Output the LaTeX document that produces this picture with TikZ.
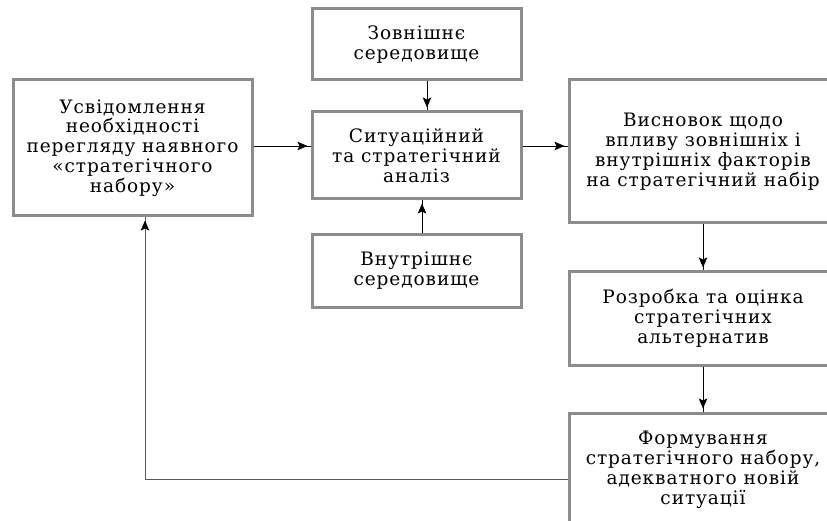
\documentclass[tikz,border=0pt]{standalone}
\usepackage{fontspec}
\setmainfont{DejaVu Serif}[LetterSpace=5]
\usetikzlibrary{arrows.meta,calc}
\begin{document}
\begin{tikzpicture}[x=1pt,y=-1pt,
  box/.style={draw=boxgray, line width=3pt, fill=white, align=center, inner sep=0pt,
    font=\fontsize{18.5}{19.8}\selectfont},
  ln/.style={draw=black, line width=0.9pt},
  fb/.style={draw=fbgray, line width=1pt},
  tip/.style={-{Stealth[length=10pt,width=8.5pt,inset=2pt,color=black]}, shorten >=3pt}]
\definecolor{boxgray}{RGB}{140,140,140}
\definecolor{fbgray}{RGB}{90,90,90}
\clip (0,0) rectangle (827,521);
\useasboundingbox (0,0) rectangle (827,521);
\fill[white] (0,0) rectangle (827,521);
% boxes
\node[box, minimum width=239pt, minimum height=136pt] (A) at (132.5,148)
  {Усвідомлення\\необхідності\\перегляду наявного\\«стратегічного\\набору»};
\node[box, minimum width=209pt, minimum height=71pt] (Z) at (416.5,44.5)
  {Зовнішнє\\середовище};
\node[box, minimum width=209pt, minimum height=87pt] (S) at (416.5,155.5)
  {Ситуаційний\\та стратегічний\\аналіз};
\node[box, minimum width=209pt, minimum height=72pt] (V) at (416.5,271)
  {Внутрішнє\\середовище};
\node[box, minimum width=268pt, minimum height=143pt] (W) at (703,151.5)
  {Висновок щодо\\впливу зовнішніх і\\внутрішніх факторів\\на стратегічний набір};
\node[box, minimum width=268pt, minimum height=93pt] (R) at (703,318.5)
  {Розробка та оцінка\\стратегічних\\альтернатив};
\node[box, minimum width=268pt, minimum height=114pt] (F) at (703,470)
  {Формування\\стратегічного набору,\\адекватного новій\\ситуації};
% helper coordinates
\coordinate (hy) at (0,146);
\coordinate (zx) at (427,0);
\coordinate (vx) at (422,0);
\coordinate (fbc) at (145,479);
% connectors
\draw[ln] (A.east|-hy) -- (S.west|-hy);
\draw[ln,tip] (A.east|-hy) -- (S.west|-hy);
\draw[ln] (S.east|-hy) -- (W.west|-hy);
\draw[ln,tip] (S.east|-hy) -- (W.west|-hy);
\draw[ln] (Z.south-|zx) -- (S.north-|zx);
\draw[ln,tip] (Z.south-|zx) -- (S.north-|zx);
\draw[ln] (V.north-|vx) -- (S.south-|vx);
\draw[ln,tip] (V.north-|vx) -- (S.south-|vx);
\draw[ln] (W.south) -- (R.north);
\draw[ln,tip] (W.south) -- (R.north);
\draw[ln] (R.south) -- (F.north);
\draw[ln,tip] (R.south) -- (F.north);
\draw[fb] (F.west|-fbc) -- (fbc) -- (A.south-|fbc);
\draw[fb,tip] (fbc) -- (A.south-|fbc);
\end{tikzpicture}
\end{document}
